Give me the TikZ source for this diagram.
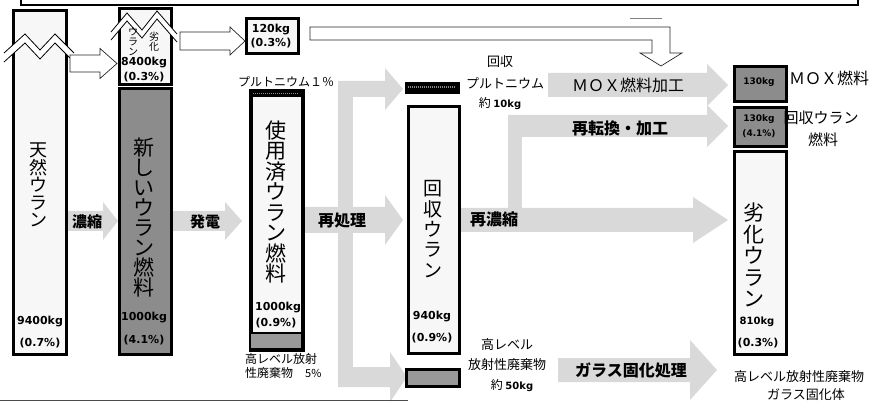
\documentclass[tikz,border=0pt]{standalone}
\usepackage{fontspec}
\setmainfont{DejaVu Sans}
\newfontfamily\jp{Noto Sans CJK JP}
\newfontfamily\vb{DejaVu Sans}
\usetikzlibrary{calc}
\newcommand\harrow[6]{% x1, xtip, yc, body half, head half, head length
  \fill[garrow] (#1,#3-#4) -- (#2-#6,#3-#4) -- (#2-#6,#3-#5) -- (#2,#3) -- (#2-#6,#3+#5) -- (#2-#6,#3+#4) -- (#1,#3+#4) -- cycle;}
\newcommand\oarrow[6]{%
  \filldraw[oarrowst] (#1,#3-#4) -- (#2-#6,#3-#4) -- (#2-#6,#3-#5) -- (#2,#3) -- (#2-#6,#3+#5) -- (#2-#6,#3+#4) -- (#1,#3+#4) -- cycle;}
\begin{document}
\begin{tikzpicture}[x=1pt,y=-1pt,
  box/.style={draw=black, line width=2.6pt, fill=black!3, inner sep=0pt, anchor=north west},
  dbox/.style={draw=black, line width=2.6pt, fill=black!45, inner sep=0pt, anchor=north west},
  garrow/.style={fill=black!15},
  oarrowst/.style={draw=black!85, line width=0.7pt, fill=white},
  zig/.style={draw=black, line width=0.8pt},
  num/.style={font=\vb\bfseries\fontsize{11}{11}\selectfont, inner sep=0pt},
  snum/.style={font=\vb\bfseries\fontsize{9}{9}\selectfont, inner sep=0pt},
  lab/.style={font=\jp\fontsize{13}{13}\selectfont, inner sep=0pt},
  blab/.style={font=\jp\bfseries\fontsize{16}{16}\selectfont, inner sep=0pt},
  vtxt/.style={align=center, inner sep=0pt}]
\useasboundingbox (0,0) rectangle (870,403);

% frame at top
\draw[line width=2pt] (21,0) -- (21,5) -- (858,5) -- (858,0);

% gray process arrows
\harrow{67}{118}{221}{10}{19}{15}
\harrow{173}{242}{221}{10}{19}{17}
\fill[garrow] (338,81) rectangle (353,387);
\harrow{338}{403}{89}{8}{21}{18}
\harrow{302}{403}{220}{13}{25}{18}
\harrow{338}{407}{377}{10}{25}{17}
\harrow{460}{728}{220}{12}{23}{35}
\fill[garrow] (508,115) rectangle (522,215);
\harrow{508}{728}{126}{11}{21}{21}
\harrow{548}{728}{85}{12}{21}{21}
\harrow{558}{717}{370}{12}{30}{27}

% boxes
\node[box, minimum width=53, minimum height=344] (nat) at (12,9) {};
\node[box, minimum width=52, minimum height=76] (dep) at (118,7) {};
\node[dbox, minimum width=52, minimum height=266] (new) at (118,87) {};
\node[box, minimum width=52, minimum height=35] (p120) at (245,17) {};
\node[box, minimum width=51, minimum height=258] (spent) at (250,90) {};
\fill[black] (250,90) rectangle (301,97);
\draw[black!45, line width=1.5pt, dash pattern=on 1pt off 1pt] (253,93.5) -- (298,93.5);
\fill[black!40] (250,333) rectangle (301,348);
\draw[line width=2.6pt] (spent.north west) rectangle (spent.south east);
\draw[line width=2pt] (250,333) -- (301,333);
\node[draw=black, line width=2pt, fill=black, inner sep=0pt, anchor=north west, minimum width=53, minimum height=10] (pu) at (405,82) {};
\draw[black!45, line width=1.5pt, dash pattern=on 1pt off 1pt] (408,87) -- (455,87);
\node[box, minimum width=51, minimum height=247] (rec) at (407,105) {};
\node[box, fill=black!40, minimum width=53, minimum height=17] (waste) at (405,368) {};
\node[dbox, minimum width=52, minimum height=35] (mox) at (733,65) {};
\node[dbox, minimum width=52, minimum height=39] (ruf) at (733,106) {};
\node[box, minimum width=52, minimum height=203] (du) at (733,150) {};

% zigzag breaks
\fill[white] (4,53)--(25,34)--(40,50)--(55,34)--(74,53)--(74,62)--(55,43)--(40,59)--(25,43)--(4,62)--cycle;
\draw[zig] (4,53)--(25,34)--(40,50)--(55,34)--(74,53);
\draw[zig] (4,62)--(25,43)--(40,59)--(55,43)--(74,62);
\fill[white] (111,32)--(127,13)--(142,30)--(157,11)--(177,34)--(177,42)--(157,19)--(142,38)--(127,21)--(111,40)--cycle;
\draw[zig] (111,32)--(127,13)--(142,30)--(157,11)--(177,34);
\draw[zig] (111,40)--(127,21)--(142,38)--(157,19)--(177,42);

% outline arrows
\oarrow{70}{117}{63.5}{8.5}{15}{17}
\oarrow{180}{245}{41}{9}{14}{15}
\filldraw[oarrowst] (310,27) -- (670,27) -- (670,53) -- (682,53) -- (661,66) -- (640,53) -- (652,53) -- (652,40) -- (310,40) -- cycle;
\draw[black!50, line width=0.6pt] (630,18) -- (662,18);

% bottom rule
\draw[black!70, line width=1pt] (0,400) -- (408,400);

% texts: natural uranium
\node[vtxt, font=\jp\fontsize{18}{17.5}\selectfont] (natT) at (38,185) {天\\然\\ウ\\ラ\\ン};
\node[num] (natA) at (40,322) {9400kg};
\node[num] (natB) at (40,343) {(0.7\%)};
% depleted (top)
\node[vtxt, font=\jp\fontsize{10}{10}\selectfont] (depT1) at (133,42) {ウ\\ラ\\ン};
\node[vtxt, font=\jp\fontsize{10}{10}\selectfont] (depT2) at (154,42) {劣\\化};
\node[num] (depA) at (144,63) {8400kg};
\node[num] (depB) at (144,77) {(0.3\%)};
% new fuel
\node[vtxt, font=\jp\fontsize{21}{20}\selectfont] (newT) at (144,218) {新\\し\\い\\ウ\\ラ\\ン\\燃\\料};
\node[num] (newA) at (144,318) {1000kg};
\node[num] (newB) at (144,340) {(4.1\%)};
% 120 kg
\node[num] (p120A) at (271,30) {120kg};
\node[num] (p120B) at (271,43) {(0.3\%)};
% spent fuel
\node[lab, font=\jp\fontsize{12}{12}\selectfont] (puL) at (286,82) {プルトニウム１％};
\node[vtxt, font=\jp\fontsize{21}{20.5}\selectfont] (spT) at (276,202) {使\\用\\済\\ウ\\ラ\\ン\\燃\\料};
\node[num] (spA) at (278,308) {1000kg};
\node[num] (spB) at (276,323) {(0.9\%)};
\node[lab, font=\jp\fontsize{12}{12}\selectfont, anchor=west] (spW1) at (245,359) {高レベル放射};
\node[lab, font=\jp\fontsize{12}{12}\selectfont, anchor=west] (spW2) at (245,373) {性廃棄物\quad{\fontsize{11}{11}\selectfont 5\%}};
% process labels
\node[blab, font=\jp\bfseries\fontsize{15}{15}\selectfont] (l1) at (87,222) {濃縮};
\node[blab, font=\jp\bfseries\fontsize{15}{15}\selectfont] (l2) at (205,222) {発電};
\node[blab] (l3) at (342,221) {再処理};
\node[blab] (l4) at (494,219) {再濃縮};
\node[blab] (l5) at (620,128) {再転換・加工};
\node[lab, font=\jp\fontsize{16}{16}\selectfont] (l6) at (628,85) {ＭＯＸ燃料加工};
\node[blab] (l7) at (631,370) {ガラス固化処理};
% recovered plutonium
\node[lab] (puA) at (500,62) {回収};
\node[lab] (puB) at (505,83) {プルトニウム};
\node[lab, font=\jp\fontsize{12}{12}\selectfont] (puC) at (500,104) {約 {\vb\bfseries\fontsize{10}{10}\selectfont 10kg}};
% recovered uranium
\node[vtxt, font=\jp\fontsize{19}{20.4}\selectfont] (recT) at (433,229) {回\\収\\ウ\\ラ\\ン};
\node[num] (recA) at (432,317) {940kg};
\node[num] (recB) at (432,338) {(0.9\%)};
% HLW
\node[lab] (hwA) at (507,345) {高レベル};
\node[lab] (hwB) at (507,365) {放射性廃棄物};
\node[lab, font=\jp\fontsize{12}{12}\selectfont] (hwC) at (512,386) {約 {\vb\bfseries\fontsize{10}{10}\selectfont 50kg}};
% right column
\node[snum] (moxA) at (759,82) {130kg};
\node[lab, font=\jp\fontsize{16}{16}\selectfont] (moxL) at (829,78) {ＭＯＸ燃料};
\node[snum] (rufA) at (759,119) {130kg};
\node[snum] (rufB) at (759,134) {(4.1\%)};
\node[lab, font=\jp\fontsize{15}{15}\selectfont] (rufL1) at (821,118) {回収ウラン};
\node[lab, font=\jp\fontsize{15}{15}\selectfont] (rufL2) at (823,140) {燃料};
\node[vtxt, font=\jp\fontsize{21}{21.6}\selectfont] (duT) at (754,255) {劣\\化\\ウ\\ラ\\ン};
\node[num, font=\vb\bfseries\fontsize{10}{10}\selectfont] (duA) at (757,322) {810kg};
\node[num] (duB) at (758,343) {(0.3\%)};
\node[lab] (glA) at (799,377) {高レベル放射性廃棄物};
\node[lab] (glB) at (806,395) {ガラス固化体};
\end{tikzpicture}
\end{document}
